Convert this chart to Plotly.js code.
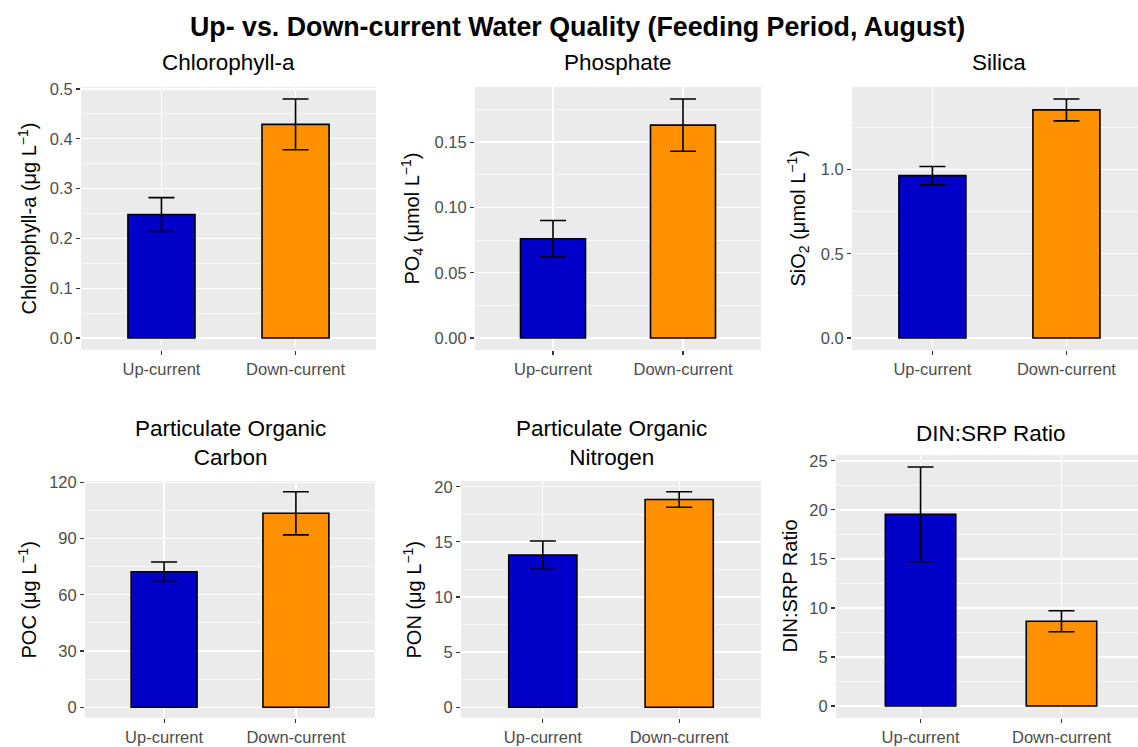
<!DOCTYPE html>
<html>
<head>
<meta charset="utf-8">
<script src="https://cdn.plot.ly/plotly-3.0.1.min.js"></script>
<style>html,body{margin:0;padding:0;background:#fff;}#chart{width:1138px;height:747px;}</style>
</head>
<body>
<div id="chart"></div>
<script>
// ---- data ----
const categories = ["Up-current", "Down-current"];
const barColors = ["#0000C8", "#FF9000"];

const chlaMean = [0.248, 0.429];
const chlaSE   = [0.034, 0.051];
const po4Mean  = [0.076, 0.163];
const po4SE    = [0.014, 0.020];
const sio2Mean = [0.963, 1.353];
const sio2SE   = [0.054, 0.065];
const pocMean  = [72.3, 103.5];
const pocSE    = [5.2, 11.5];
const ponMean  = [13.8, 18.85];
const ponSE    = [1.28, 0.70];
const dinMean  = [19.55, 8.65];
const dinSE    = [4.83, 1.07];

const panelTitles = ["Chlorophyll-a", "Phosphate", "Silica",
  "Particulate Organic<br>Carbon", "Particulate Organic<br>Nitrogen", "DIN:SRP Ratio"];
const yTitles = ["Chlorophyll-a (μg L<sup>−1</sup>)", "PO<sub>4</sub> (μmol L<sup>−1</sup>)",
  "SiO<sub>2</sub> (μmol L<sup>−1</sup>)", "POC (μg L<sup>−1</sup>)",
  "PON (μg L<sup>−1</sup>)", "DIN:SRP Ratio"];
const mainTitle = "Up- vs. Down-current Water Quality (Feeding Period, August)";

// ---- layout geometry (pixels) ----
const W = 1138, H = 747;
const panels = [
  {m: chlaMean, s: chlaSE, x0: 81,  x1: 376,  y0: 87,  y1: 350, xr: 1.6,   dt: 0.1,  fmt: ".1f", tx: 228.5, ty: 63,  ax: 27},
  {m: po4Mean,  s: po4SE,  x0: 475, x1: 761,  y0: 87,  y1: 350, xr: 1.6,   dt: 0.05, fmt: ".2f", tx: 618,   ty: 63,  ax: 412},
  {m: sio2Mean, s: sio2SE, x0: 852, x1: 1138, y0: 87,  y1: 350, xr: 1.534, dt: 0.5,  fmt: ".1f", tx: 999.4, ty: 63,  ax: 798},
  {m: pocMean,  s: pocSE,  x0: 85,  x1: 375,  y0: 481, y1: 718, xr: 1.6,   dt: 30,   fmt: "d",   tx: 230,   ty: 443, ax: 27},
  {m: ponMean,  s: ponSE,  x0: 461, x1: 761,  y0: 481, y1: 718, xr: 1.6,   dt: 5,    fmt: "d",   tx: 611,   ty: 443, ax: 412},
  {m: dinMean,  s: dinSE,  x0: 836, x1: 1138, y0: 455, y1: 718, xr: 1.543, dt: 5,    fmt: "d",   tx: 991,   ty: 433, ax: 789}
];

const FONT = "Liberation Sans, Arial, Helvetica, sans-serif";
const traces = [];
const layout = {
  width: W, height: H,
  margin: {l: 0, r: 0, t: 0, b: 0},
  paper_bgcolor: "#ffffff",
  plot_bgcolor: "#ffffff",
  showlegend: false,
  font: {family: FONT, color: "#000"},
  title: {text: "<b>" + mainTitle + "</b>", x: 577.5 / W, xanchor: "center",
          y: 1 - 27 / H, yanchor: "middle", font: {family: FONT, size: 26.8, color: "#000"}},
  annotations: [],
  shapes: []
};

panels.forEach((p, i) => {
  const n = i + 1;
  const xa = "x" + (n === 1 ? "" : n), ya = "y" + (n === 1 ? "" : n);
  const top = Math.max(...p.m.map((v, k) => v + p.s[k]));
  traces.push({
    type: "bar", x: categories, y: p.m, xaxis: xa, yaxis: ya, width: 0.5,
    marker: {color: barColors, line: {color: "#000", width: 1.6}},
    error_y: {type: "data", array: p.s, visible: true, color: "#000", thickness: 1.6, width: 13},
    hoverinfo: "x+y"
  });
  const axX = {
    domain: [p.x0 / W, p.x1 / W], anchor: ya, type: "category",
    range: [-0.6, p.xr], showgrid: true, gridcolor: "#ffffff", gridwidth: 1.3,
    ticks: "outside", ticklen: 4, tickwidth: 1.1, tickcolor: "#333333",
    tickfont: {family: FONT, size: 16.5, color: "#4D4D4D"},
    showline: false, zeroline: false, fixedrange: true
  };
  const axY = {
    domain: [1 - p.y1 / H, 1 - p.y0 / H], anchor: xa,
    range: [-0.05 * top, 1.05 * top], dtick: p.dt, tick0: 0, tickformat: p.fmt,
    showgrid: true, gridcolor: "#ffffff", gridwidth: 1.3,
    minor: {dtick: p.dt / 2, showgrid: true, gridcolor: "#ffffff", gridwidth: 0.6, ticks: ""},
    ticks: "outside", ticklen: 4, tickwidth: 1.1, tickcolor: "#333333",
    tickfont: {family: FONT, size: 16.5, color: "#4D4D4D"},
    showline: false, zeroline: false, fixedrange: true
  };
  layout["xaxis" + (n === 1 ? "" : n)] = axX;
  layout["yaxis" + (n === 1 ? "" : n)] = axY;
  // gray panel background
  layout.shapes.push({type: "rect", xref: "paper", yref: "paper", layer: "below",
    x0: p.x0 / W, x1: p.x1 / W, y0: 1 - p.y1 / H, y1: 1 - p.y0 / H,
    fillcolor: "#EBEBEB", line: {width: 0}});
  // panel title
  layout.annotations.push({text: panelTitles[i], xref: "paper", yref: "paper",
    x: p.tx / W, y: 1 - p.ty / H, xanchor: "center", yanchor: "middle", showarrow: false,
    font: {family: FONT, size: 22.5, color: "#000"}});
  // y axis title
  layout.annotations.push({text: yTitles[i], xref: "paper", yref: "paper",
    x: p.ax / W, y: 1 - ((p.y0 + p.y1) / 2) / H, xanchor: "center", yanchor: "middle",
    textangle: -90, showarrow: false, font: {family: FONT, size: 20, color: "#000"}});
});

Plotly.newPlot("chart", traces, layout, {staticPlot: true, displayModeBar: false});
</script>
</body>
</html>
